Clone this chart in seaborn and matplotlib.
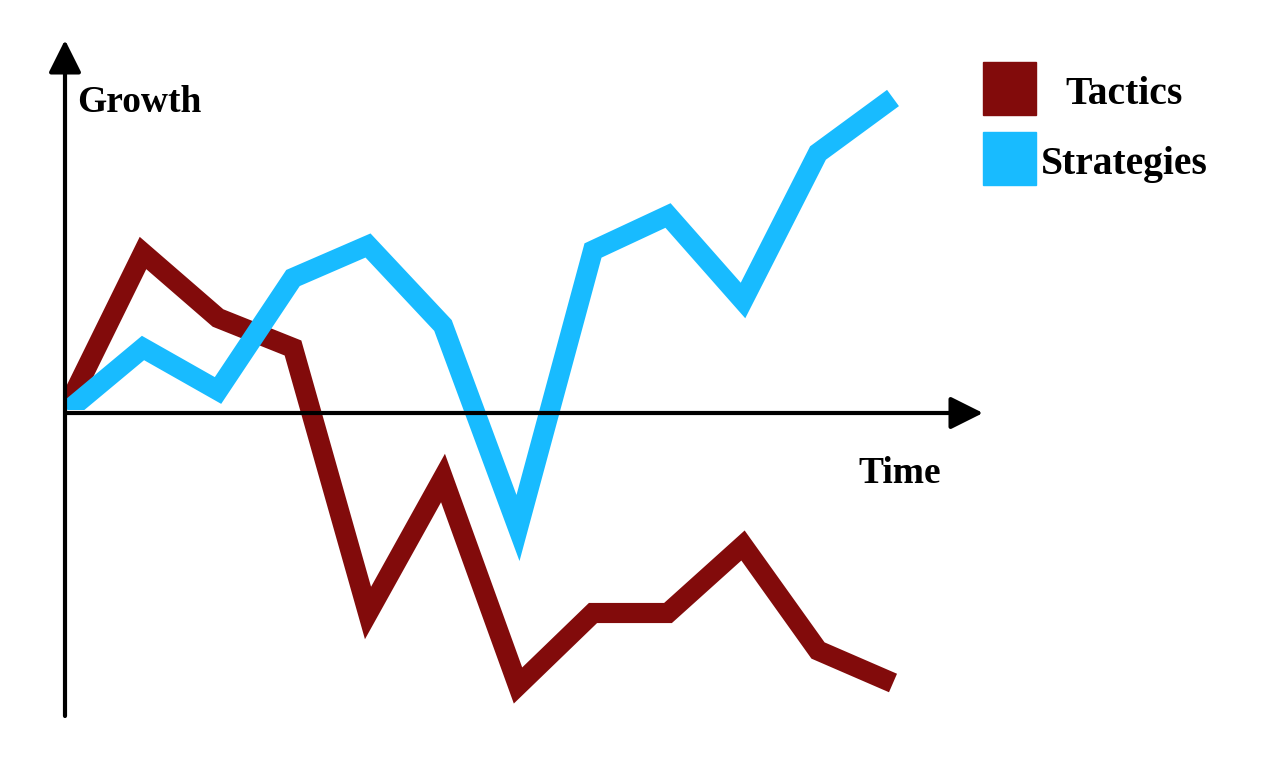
import matplotlib
matplotlib.use("Agg")
import matplotlib.pyplot as plt
from matplotlib.patches import Rectangle, Polygon
import seaborn as sns
import pandas as pd

# ---- data ----
time_steps = [0, 1, 2, 3, 4, 5, 6, 7, 8, 9, 10, 11]
tactics = [0.3, 6.4, 3.8, 2.6, -8.0, -2.6, -10.9, -8.0, -8.0, -5.3, -9.5, -10.8]
strategies = [0.1, 2.6, 0.9, 5.4, 6.7, 3.5, -4.6, 6.5, 7.9, 4.5, 10.4, 12.6]
series_names = ["Tactics", "Strategies"]
colors = ["#820b0b", "#18bbff"]
x_label = "Time"
y_label = "Growth"

df = pd.DataFrame({
    "Time": time_steps * 2,
    "Growth": tactics + strategies,
    "Series": [series_names[0]] * len(time_steps) + [series_names[1]] * len(time_steps),
})

sns.set_theme(style="white")
plt.rcParams["font.family"] = ["Liberation Serif", "DejaVu Serif"]
plt.rcParams["text.color"] = "black"

fig = plt.figure(figsize=(12.8, 7.6), dpi=100)
ax = fig.add_axes([0, 0, 1, 1])

sns.lineplot(data=df, x="Time", y="Growth", hue="Series",
             palette=dict(zip(series_names, colors)),
             linewidth=14.5, legend=False, ax=ax,
             solid_joinstyle="miter", solid_capstyle="butt", zorder=3)

# pixel mapping: x=0 -> 68px, 75px per step ; y=0 -> 413px, 25px per unit
px_per_x = 75.0
x0 = -68 / px_per_x
ax.set_xlim(x0, x0 + 1280 / px_per_x)
ax.set_ylim(-(760 - 413) / 25, 413 / 25)
ax.axis("off")

def px_to_data(px, py):
    return (x0 + px / px_per_x, (413 - py) / 25)

# axes with arrows
ax_x0, _ = px_to_data(65, 0)
_, yb = px_to_data(0, 716)
_, yt = px_to_data(0, 40)
xr, _ = px_to_data(983, 0)
arrow_kw = dict(arrowstyle="-|>", color="black", lw=3, mutation_scale=50,
                shrinkA=0, shrinkB=0)
ax.annotate("", xy=(ax_x0, yt), xytext=(ax_x0, yb), arrowprops=arrow_kw, zorder=4)
ax.annotate("", xy=(xr, 0), xytext=(ax_x0, 0), arrowprops=arrow_kw, zorder=4)

# clip the line starts at the origin corner
pts = [px_to_data(67, -200), px_to_data(2000, -200), px_to_data(2000, 1000),
       px_to_data(120, 1000), px_to_data(120, 410), px_to_data(67, 410)]
clip_poly = Polygon(pts, closed=True, transform=ax.transData)
for ln in ax.lines:
    ln.set_clip_path(clip_poly)

# axis labels
gx, gy = px_to_data(77, 112)
ax.text(gx, gy, y_label, fontsize=27, fontweight="bold", color="black",
        ha="left", va="baseline")
tx, ty = px_to_data(900, 483)
ax.text(tx, ty, x_label, fontsize=27, fontweight="bold", color="black",
        ha="center", va="baseline")

# legend
W, H = 1280, 760
for i, (name, col) in enumerate(zip(series_names, colors)):
    top = 62 + i * 70
    fig.patches.append(Rectangle((983 / W, 1 - (top + 53) / H), 53 / W, 53 / H,
                                 transform=fig.transFigure, color=col, zorder=5))
    fig.text(1124 / W, 1 - (top + 42) / H, name, fontsize=28.5, fontweight="bold",
             color="black", ha="center", va="baseline")

fig.savefig("out.png", dpi=100)
